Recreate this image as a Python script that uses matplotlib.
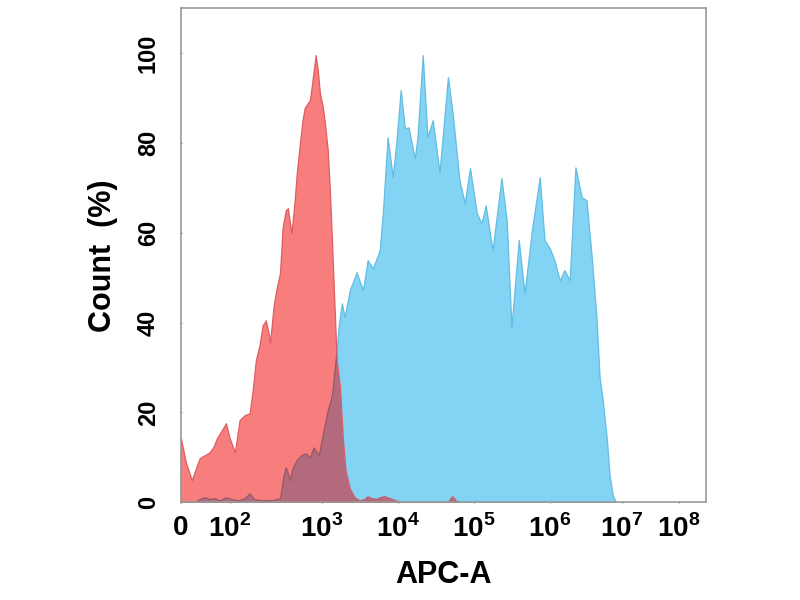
import numpy as np
import matplotlib
matplotlib.use("Agg")
import matplotlib.pyplot as plt

plt.rcParams['font.family'] = ['Liberation Sans', 'DejaVu Sans']
plt.rcParams['font.weight'] = 'bold'
plt.rcParams['mathtext.fontset'] = 'custom'
plt.rcParams['mathtext.rm'] = 'Liberation Sans:bold'
plt.rcParams['mathtext.bf'] = 'Liberation Sans:bold'

# x in display channels (0-1000 across the axis), y in percent of max count
red_x = [0, 9.5, 21, 29, 36, 46, 55, 63, 69, 78, 86, 93, 103, 112, 122, 131, 137,
         143, 150, 156, 162, 168, 170, 177, 183, 189, 194, 200, 204, 211, 217, 221,
         227, 232, 236, 242, 246, 251, 257, 261, 265, 270, 274, 280, 284, 288, 293,
         297, 303, 309, 314, 322, 331, 341, 350, 356, 364, 373, 379, 389, 398, 410,
         421, 509, 514, 518, 524, 531]
red_y = [14.3, 8.9, 4.9, 7.6, 9.8, 10.5, 11.1, 12.5, 14.3, 16.0, 17.6, 14.3, 11.1,
         18.3, 19.4, 19.8, 24.9, 31.6, 35.0, 39.4, 40.5, 37.2, 35.4, 43.9, 47.9, 51.0,
         61.2, 65.0, 65.5, 59.9, 67.3, 73.3, 80.0, 85.1, 87.8, 88.9, 89.5, 94.0, 99.6,
         96.2, 91.1, 88.4, 85.1, 78.4, 69.5, 58.4, 43.4, 31.6, 26.1, 13.8, 7.1, 3.1,
         1.1, 0.4, 0.7, 1.3, 0.9, 0.7, 1.1, 1.3, 0.9, 0.4, 0, 0, 0.9, 1.3, 0.4, 0]

blue_x = [0, 27, 36, 46, 55, 65, 74, 86, 97, 109, 122, 131, 139, 154, 173, 189, 196,
          200, 208, 213, 221, 230, 238, 246, 253, 263, 272, 280, 288, 295, 301, 307,
          312, 322, 335, 347, 356, 366, 379, 385, 394, 404, 411, 419, 427, 434, 446,
          451, 461, 470, 480, 493, 509, 518, 531, 541, 551, 564, 573, 581, 594, 611,
          621, 630, 644, 655, 669, 684, 693, 703, 712, 722, 731, 741, 752, 764, 773,
          783, 792, 798, 804, 812, 817, 823, 829]
blue_y = [0, 0, 0.7, 1.1, 0.7, 0.9, 0.4, 1.1, 0.7, 0.4, 0.9, 2.0, 0.7, 0.4, 0.4, 0.9,
          6.0, 7.8, 4.9, 7.6, 9.4, 10.5, 10.9, 10.0, 12.2, 10.5, 16.0, 20.5, 23.8, 31.6,
          39.4, 44.3, 41.2, 47.2, 51.2, 47.2, 53.9, 52.1, 56.1, 64.4, 81.3, 72.4, 80.6,
          91.8, 83.3, 83.5, 76.6, 81.3, 99.6, 81.3, 85.1, 73.5, 94.7, 86.6, 71.7, 66.6,
          74.4, 64.4, 62.1, 66.1, 56.1, 72.2, 62.8, 39.0, 58.4, 46.5, 60.6, 72.4, 58.4,
          56.6, 53.9, 49.4, 51.7, 49.4, 74.6, 67.9, 67.3, 54.6, 41.2, 27.8, 22.7, 13.8,
          6.0, 1.6, 0]

tick_pos = [0, 93, 269, 413, 558, 703, 840, 949]
tick_labels = ['0', r'$10^{2}$', r'$10^{3}$', r'$10^{4}$', r'$10^{5}$',
               r'$10^{6}$', r'$10^{7}$', r'$10^{8}$']
y_ticks = [0, 20, 40, 60, 80, 100]

fig = plt.figure(figsize=(8, 6), dpi=100, facecolor='white')
ax = fig.add_axes([0.226, 0.163, 0.656, 0.823])

blue = ax.fill_between(blue_x, blue_y, 0, facecolor='#83d4f4', edgecolor='#62bde2',
                       linewidth=0.9, zorder=2)
red = ax.fill_between(red_x, red_y, 0, facecolor='#f87d7d', edgecolor='#dd5e62',
                      linewidth=0.9, zorder=3)
# overlap of the two populations shows as a darker mauve
both = ax.fill_between(blue_x, blue_y, 0, facecolor='#b46a7d', edgecolor='#94576a',
                       linewidth=0.9, zorder=4)
both.set_clip_path(red.get_paths()[0], ax.transData)

ax.set_xlim(0, 1000)
ax.set_ylim(0, 110)
ax.set_xticks(tick_pos)
ax.set_xticklabels(tick_labels, fontsize=20)
ax.set_yticks(y_ticks)
ax.set_yticklabels([str(v) for v in y_ticks], fontsize=17, rotation=90, va='center')
ax.tick_params(axis='x', length=2, width=1, color='#888888', pad=8, direction='inout')
ax.tick_params(axis='y', length=2, width=1, color='#888888', pad=14, direction='inout')

for s in ax.spines.values():
    s.set_color('#999999')
    s.set_linewidth(1.2)
    s.set_zorder(5)

ax.set_xlabel('APC-A', fontsize=22, fontweight='bold', labelpad=12)
ax.set_ylabel('Count  (%)', fontsize=22, fontweight='bold', labelpad=14)

fig.savefig('out.png', dpi=100)
